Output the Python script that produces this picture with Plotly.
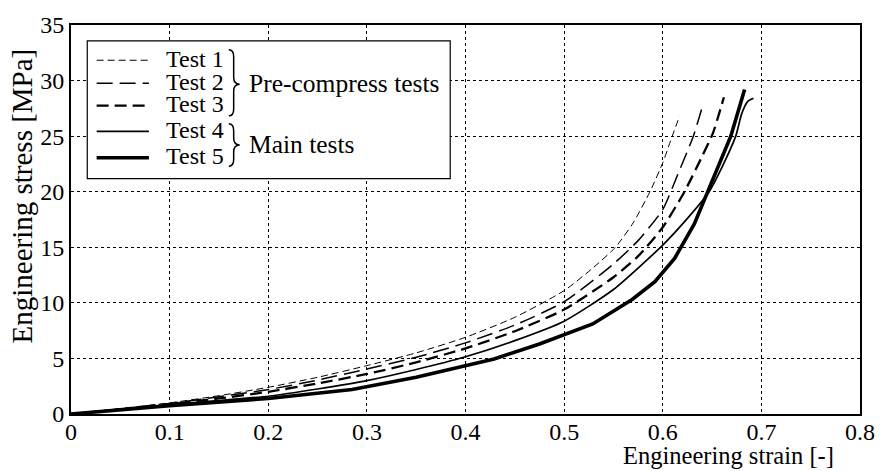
import plotly.graph_objects as go

# ---------------- data ----------------
test1_strain = [0, 0.05, 0.1, 0.15, 0.2, 0.25, 0.3, 0.35, 0.4, 0.45, 0.5, 0.53, 0.552, 0.57, 0.587, 0.6, 0.608, 0.617]
test1_stress = [0, 0.5, 1.0, 1.65, 2.4, 3.3, 4.35, 5.5, 6.9, 8.7, 11.1, 13.2, 15.0, 17.2, 20.0, 22.6, 24.6, 26.8]

test2_strain = [0, 0.05, 0.1, 0.15, 0.2, 0.25, 0.3, 0.35, 0.4, 0.45, 0.5, 0.55, 0.575, 0.6, 0.615, 0.631, 0.64]
test2_stress = [0, 0.45, 0.95, 1.55, 2.2, 3.05, 4.05, 5.1, 6.4, 8.0, 10.1, 13.5, 15.6, 18.4, 21.5, 25.0, 27.6]

test3_strain = [0, 0.05, 0.1, 0.15, 0.2, 0.25, 0.3, 0.35, 0.4, 0.45, 0.5, 0.55, 0.575, 0.6, 0.622, 0.64, 0.651, 0.662]
test3_stress = [0, 0.42, 0.9, 1.4, 2.0, 2.75, 3.6, 4.65, 5.9, 7.45, 9.4, 12.3, 14.2, 16.8, 20.0, 23.2, 25.3, 28.5]

test4_strain = [0, 0.05, 0.1, 0.15, 0.2, 0.25, 0.3, 0.35, 0.4, 0.45, 0.5, 0.55, 0.6, 0.625, 0.647, 0.66, 0.674, 0.68, 0.686, 0.692]
test4_stress = [0, 0.4, 0.85, 1.2, 1.6, 2.25, 3.0, 4.0, 5.15, 6.6, 8.35, 11.2, 15.2, 17.6, 20.0, 22.2, 25.0, 27.0, 28.1, 28.4]

test5_strain = [0, 0.1, 0.2, 0.285, 0.35, 0.429, 0.475, 0.529, 0.569, 0.592, 0.612, 0.632, 0.669, 0.683]
test5_stress = [0, 0.75, 1.4, 2.2, 3.3, 4.95, 6.3, 8.1, 10.3, 11.9, 14.0, 17.1, 25.0, 29.2]

series_names = ["Test 1", "Test 2", "Test 3", "Test 4", "Test 5"]
group_labels = ["Pre-compress tests", "Main tests"]

x_ticks = [0, 0.1, 0.2, 0.3, 0.4, 0.5, 0.6, 0.7, 0.8]
x_tick_text = ["0", "0.1", "0.2", "0.3", "0.4", "0.5", "0.6", "0.7", "0.8"]
y_ticks = [0, 5, 10, 15, 20, 25, 30, 35]
y_tick_text = ["0", "5", "10", "15", "20", "25", "30", "35"]

x_title = "Engineering strain [-]"
y_title = "Engineering stress [MPa]"

# ---------------- styling ----------------
FONT = "Liberation Serif, Times New Roman, serif"
FS = 24
W, H = 887, 471
L, R, T, B = 71, 16, 20, 57
PW, PH = W - L - R, H - T - B

styles = [
    dict(width=1.0, dash="7px,4px", shape="spline"),
    dict(width=1.5, dash="16px,7px", shape="spline"),
    dict(width=2.3, dash="12px,6px", shape="spline"),
    dict(width=1.7, dash="solid", shape="spline"),
    dict(width=3.6, dash="solid", shape="linear"),
]

def px(xp):
    return (xp - L) / PW

def py(yp):
    return (H - B - yp) / PH

fig = go.Figure()
all_data = [(test1_strain, test1_stress), (test2_strain, test2_stress),
            (test3_strain, test3_stress), (test4_strain, test4_stress),
            (test5_strain, test5_stress)]
for (xs, ys), name, st in zip(all_data, series_names, styles):
    fig.add_trace(go.Scatter(
        x=xs, y=ys, mode="lines", name=name, showlegend=False,
        line=dict(color="black", width=st["width"], dash=st["dash"],
                  shape=st["shape"], smoothing=0.6 if st["shape"] == "spline" else None),
    ))

shapes = []
annotations = []

# legend box
shapes.append(dict(type="rect", xref="paper", yref="paper",
                   x0=px(87.5), x1=px(455.5), y0=py(175.5), y1=py(36),
                   line=dict(color="black", width=1.2), fillcolor="white", layer="above"))

row_y = [55.7, 79, 101.7, 127.7, 154.5]
for name, st, yy in zip(series_names, styles, row_y):
    shapes.append(dict(type="line", xref="paper", yref="paper",
                       x0=px(97), x1=px(150), y0=py(yy), y1=py(yy),
                       line=dict(color="black", width=st["width"], dash=st["dash"]),
                       layer="above"))
    annotations.append(dict(xref="paper", yref="paper", x=px(165), y=py(yy - 1.5),
                            text=name, showarrow=False, xanchor="left", yanchor="middle",
                            font=dict(family=FONT, size=24, color="black")))

def brace(x0, top, tip, bot, w=11):
    xm = x0 + w * 0.45
    xr = x0 + w
    r = 7
    pts = (f"M {px(x0)},{py(top)} "
           f"Q {px(xm)},{py(top)} {px(xm)},{py(top + r)} "
           f"L {px(xm)},{py(tip - r)} "
           f"Q {px(xm)},{py(tip)} {px(xr)},{py(tip)} "
           f"Q {px(xm)},{py(tip)} {px(xm)},{py(tip + r)} "
           f"L {px(xm)},{py(bot - r)} "
           f"Q {px(xm)},{py(bot)} {px(x0)},{py(bot)}")
    return dict(type="path", xref="paper", yref="paper", path=pts,
                line=dict(color="black", width=1.5), layer="above")

shapes.append(brace(231, 45, 80, 112))
shapes.append(brace(231, 120, 141.5, 163))

annotations.append(dict(xref="paper", yref="paper", x=px(249), y=py(79.5),
                        text=group_labels[0], showarrow=False, xanchor="left", yanchor="middle",
                        font=dict(family=FONT, size=25.5, color="black")))
annotations.append(dict(xref="paper", yref="paper", x=px(249), y=py(141),
                        text=group_labels[1], showarrow=False, xanchor="left", yanchor="middle",
                        font=dict(family=FONT, size=25.5, color="black")))

# axis titles
annotations.append(dict(xref="paper", yref="paper", x=px(847), y=py(456),
                        text=x_title, showarrow=False, xanchor="right", yanchor="middle",
                        font=dict(family=FONT, size=24.5, color="black")))
annotations.append(dict(xref="paper", yref="paper", x=px(21), y=py(193),
                        text=y_title, showarrow=False, xanchor="center", yanchor="middle",
                        textangle=-90,
                        font=dict(family=FONT, size=29, color="black")))

axis_common = dict(
    showline=True, linecolor="black", linewidth=2, mirror=True,
    showgrid=True, gridcolor="black", gridwidth=1, griddash="3px,3px",
    zeroline=False, ticks="",
    tickfont=dict(family=FONT, size=FS, color="black"),
)

fig.update_layout(
    width=W, height=H,
    margin=dict(l=L, r=R, t=T, b=B, pad=0),
    paper_bgcolor="white", plot_bgcolor="white",
    showlegend=False,
    xaxis=dict(range=[0, 0.8], tickvals=x_ticks, ticktext=x_tick_text,
               ticklabelstandoff=-5, **axis_common),
    yaxis=dict(range=[0, 35], tickvals=y_ticks, ticktext=y_tick_text, **axis_common),
    shapes=shapes, annotations=annotations,
)

fig.write_html("out.html")
